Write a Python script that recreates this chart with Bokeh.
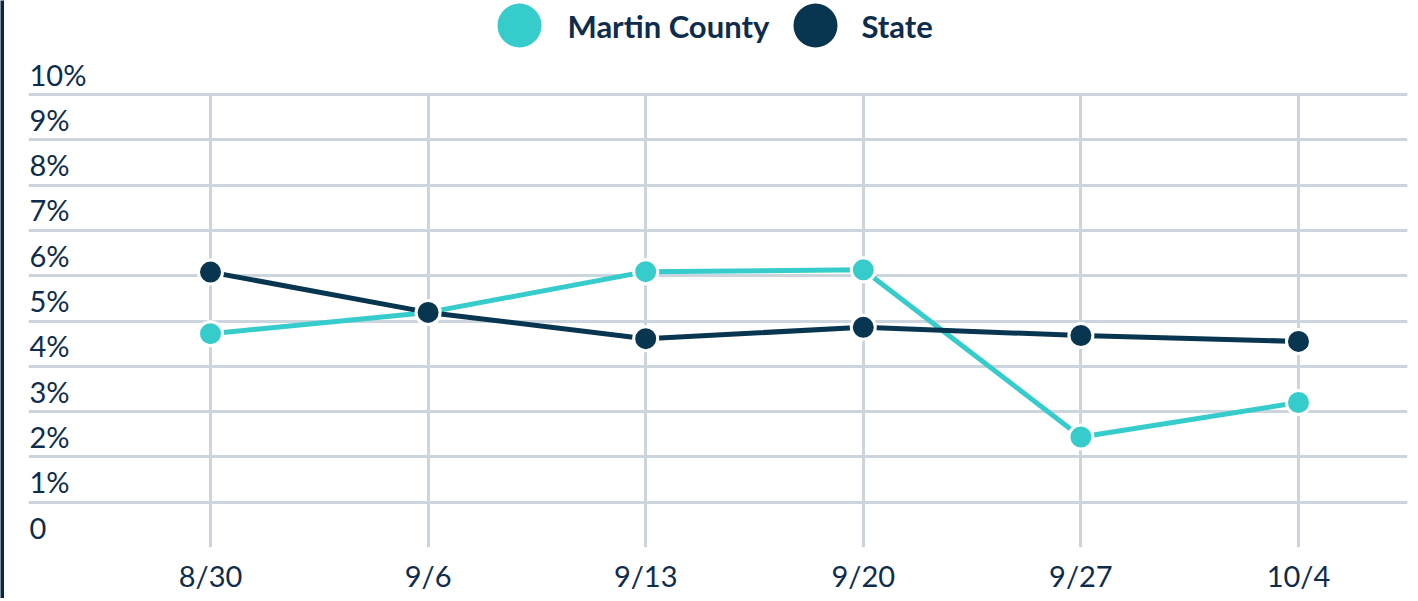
from bokeh.plotting import figure
from bokeh.layouts import column, row
from bokeh.models import Range1d, FixedTicker, ColumnDataSource, LabelSet
from bokeh.core.properties import value
from bokeh.embed import file_html
from bokeh.resources import INLINE

# ---- data ----
dates = ["8/30", "9/6", "9/13", "9/20", "9/27", "10/4"]
martin = [4.72, 5.19, 6.09, 6.13, 2.44, 3.20]
state = [6.08, 5.19, 4.61, 4.86, 4.68, 4.55]
y_ticks = [0, 1, 2, 3, 4, 5, 6, 7, 8, 9, 10]
y_tick_labels = ["0", "1%", "2%", "3%", "4%", "5%", "6%", "7%", "8%", "9%", "10%"]
series_names = ["Martin County", "State"]

TEAL = "#35CCCB"
NAVY = "#08354F"
BAR = "#0A2647"
TEXT = "#0E2C4C"
GRID = "#CCD5DE"
FONT = "Lato"

X0 = 1          # page origin observed in the screenshot
BAR_W = 4       # dark decorative strip on the left edge
LEG_H = 52      # legend strip from y=1 to y=53
FRAME_L, FRAME_R = 29, 1408   # page x of the plot frame edges
FRAME_W = FRAME_R - FRAME_L
FRAME_H = 495   # frame from y=53 to y=548; 10% grid line sits at y=95
PX_PER_UNIT = 45.27
LEFT = FRAME_L - (X0 + BAR_W)
W = LEFT + FRAME_W + 2
xs = list(range(len(dates)))
x_start, x_end = -0.8364, 5.501
y_max = max(y_ticks)
y_end = y_max + (95 - (X0 + LEG_H)) / PX_PER_UNIT

# ---- left strip ----
bar = figure(width=BAR_W, height=598, output_backend="svg", toolbar_location=None,
             min_border=0, background_fill_color=BAR, border_fill_color=BAR)
bar.axis.visible = False
bar.grid.visible = False
bar.outline_line_color = None

# ---- legend strip (its frame is aligned with the chart frame by the column) ----
leg = figure(width=W, height=LEG_H, x_range=Range1d(FRAME_L, FRAME_R),
             y_range=Range1d(X0 + LEG_H, X0),
             output_backend="svg", toolbar_location=None, min_border=0)
leg.axis.visible = False
leg.grid.visible = False
leg.outline_line_color = None
leg_src = ColumnDataSource(dict(cx=[520, 816], tx=[568, 862], cy=[26, 26],
                                name=series_names, color=[TEAL, NAVY]))
leg.scatter("cx", "cy", source=leg_src, size=44, color="color", line_color=None)
leg.text("tx", "cy", text="name", source=leg_src, text_font=value(FONT),
         text_font_style="bold", text_font_size="31px", text_color=TEXT,
         text_baseline="middle", text_align="left")

# ---- main chart ----
p = figure(frame_width=FRAME_W, frame_height=FRAME_H,
           x_range=Range1d(x_start, x_end), y_range=Range1d(0, y_end),
           output_backend="svg", toolbar_location=None,
           min_border_left=LEFT, min_border_right=2, min_border_top=0, min_border_bottom=0)
p.outline_line_color = None
p.yaxis.visible = False

p.xaxis.ticker = FixedTicker(ticks=xs)
p.xaxis.major_label_overrides = {i: d for i, d in enumerate(dates)}
p.xaxis.axis_line_color = None
p.xaxis.major_tick_line_color = None
p.xaxis.minor_tick_line_color = None
p.xaxis.major_label_text_font = FONT
p.xaxis.major_label_text_font_size = "29px"
p.xaxis.major_label_text_color = TEXT
p.xaxis.major_label_standoff = 4

p.xgrid.ticker = FixedTicker(ticks=xs)
p.xgrid.grid_line_color = GRID
p.xgrid.grid_line_width = 3
p.xgrid.cross_bounds = (0, y_max)
p.ygrid.ticker = FixedTicker(ticks=y_ticks)
p.ygrid.grid_line_color = GRID
p.ygrid.grid_line_width = 3

# y tick labels drawn inside the plot, above each grid line
ysrc = ColumnDataSource(dict(x=[x_start] * len(y_ticks), y=y_ticks, t=y_tick_labels))
p.add_layout(LabelSet(x="x", y="y", text="t", source=ysrc, text_font=value(FONT),
                      text_font_size="29px", text_color=TEXT, text_align="left",
                      text_baseline="alphabetic", x_offset=1, y_offset=9))

# series
p.line(xs, martin, line_color=TEAL, line_width=5)
p.scatter(xs, martin, size=24, fill_color=TEAL, line_color="white", line_width=3)
p.line(xs, state, line_color=NAVY, line_width=5)
p.scatter(xs, state, size=24, fill_color=NAVY, line_color="white", line_width=3)

layout = row(bar, column(leg, p, spacing=0), spacing=0)
open("out.html", "w").write(file_html(layout, INLINE))
